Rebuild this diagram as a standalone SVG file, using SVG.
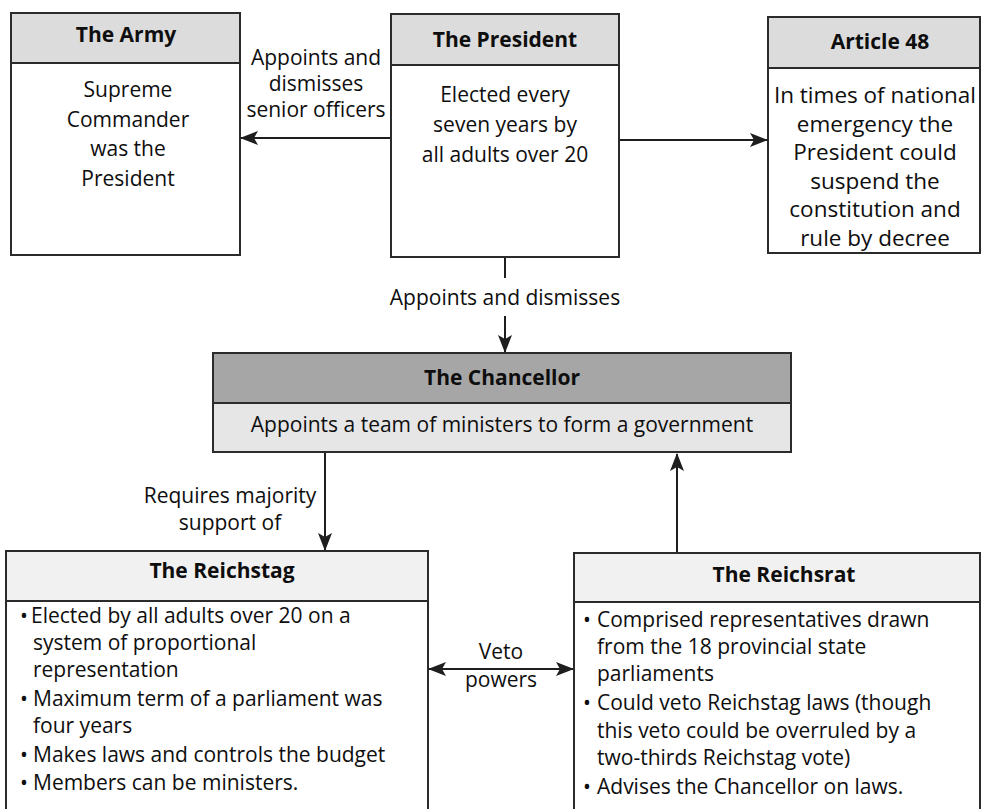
<svg xmlns="http://www.w3.org/2000/svg" width="984" height="809" viewBox="0 0 984 809">
<defs>
<marker id="ah" viewBox="0 0 18 14" refX="17" refY="7" markerWidth="18" markerHeight="14" markerUnits="userSpaceOnUse" orient="auto-start-reverse">
<path d="M0,0 L18,7 L0,14 L4,7 Z" fill="#1e1e1e"/>
</marker>
<style>
.box{fill:#fff;stroke:#2b2b2b;stroke-width:2}
.hd{fill:#dcdcdc;stroke:#2b2b2b;stroke-width:2}
.hdl{fill:#f1f1f1;stroke:#2b2b2b;stroke-width:2}
.hdd{fill:#a6a6a6;stroke:#2b2b2b;stroke-width:2}
.bdl{fill:#e6e6e6;stroke:#2b2b2b;stroke-width:2}
text{font-family:"Open Sans","Noto Sans","Liberation Sans",sans-serif;fill:#0e0e0e;font-size:21px;font-weight:500}
.t{font-weight:bold;text-anchor:middle}
.c{text-anchor:middle}
.big{font-size:22.5px}
.ln{stroke:#1e1e1e;stroke-width:2;fill:none}
</style>
</defs>
<rect width="984" height="809" fill="#fff"/>

<g id="connectors">
<line class="ln" x1="391" y1="138" x2="241" y2="138" marker-end="url(#ah)"/>
<line class="ln" x1="619" y1="140" x2="767" y2="140" marker-end="url(#ah)"/>
<line class="ln" x1="505" y1="257" x2="505" y2="278"/>
<line class="ln" x1="505" y1="316" x2="505" y2="352" marker-end="url(#ah)"/>
<line class="ln" x1="325" y1="452" x2="325" y2="550" marker-end="url(#ah)"/>
<line class="ln" x1="677" y1="552" x2="677" y2="454" marker-end="url(#ah)"/>
<line class="ln" x1="429" y1="669" x2="573" y2="669" marker-start="url(#ah)" marker-end="url(#ah)"/>
<text class="c" x="316" y="65">Appoints and</text>
<text class="c" x="316" y="91">dismisses</text>
<text class="c" x="316" y="117">senior officers</text>
<text class="c" x="505" y="305">Appoints and dismisses</text>
<text class="c" x="230" y="503">Requires majority</text>
<text class="c" x="230" y="530">support of</text>
<text class="c" x="501" y="659">Veto</text>
<text class="c" x="501" y="687">powers</text>
</g>

<g id="army">
<rect class="box" x="11" y="13" width="229" height="242"/>
<rect class="hd" x="11" y="13" width="229" height="50"/>
<text class="t" x="126" y="42">The Army</text>
<text class="c" x="128" y="97">Supreme</text>
<text class="c" x="128" y="127">Commander</text>
<text class="c" x="128" y="156">was the</text>
<text class="c" x="128" y="186">President</text>
</g>

<g id="president">
<rect class="box" x="391" y="14" width="228" height="243"/>
<rect class="hd" x="391" y="14" width="228" height="51"/>
<text class="t" x="505" y="47">The President</text>
<text class="c" x="505" y="102">Elected every</text>
<text class="c" x="505" y="132">seven years by</text>
<text class="c" x="505" y="162">all adults over 20</text>
</g>

<g id="article48">
<rect class="box" x="768" y="17" width="212" height="236"/>
<rect class="hd" x="768" y="17" width="212" height="51"/>
<text class="t" x="880" y="49">Article 48</text>
<text class="c big" x="875" y="103">In times of national</text>
<text class="c big" x="875" y="131.5">emergency the</text>
<text class="c big" x="875" y="160">President could</text>
<text class="c big" x="875" y="188.5">suspend the</text>
<text class="c big" x="875" y="217">constitution and</text>
<text class="c big" x="875" y="245.5">rule by decree</text>
</g>

<g id="chancellor">
<rect class="bdl" x="213" y="353" width="578" height="99"/>
<rect class="hdd" x="213" y="353" width="578" height="50"/>
<text class="t" x="502" y="385">The Chancellor</text>
<text class="c" x="502" y="432">Appoints a team of ministers to form a government</text>
</g>

<g id="reichstag">
<rect class="box" x="6" y="551" width="422" height="270"/>
<rect class="hdl" x="6" y="551" width="422" height="50"/>
<text class="t" x="222" y="578">The Reichstag</text>
<text x="20" y="623">•</text><text x="31" y="623">Elected by all adults over 20 on a</text>
<text x="33" y="650">system of proportional</text>
<text x="33" y="677">representation</text>
<text x="20" y="706">•</text><text x="33" y="706">Maximum term of a parliament was</text>
<text x="33" y="733">four years</text>
<text x="20" y="762">•</text><text x="33" y="762">Makes laws and controls the budget</text>
<text x="20" y="790">•</text><text x="33" y="790">Members can be ministers.</text>
</g>

<g id="reichsrat">
<rect class="box" x="574" y="553" width="406" height="270"/>
<rect class="hdl" x="574" y="553" width="406" height="49"/>
<text class="t" x="784" y="582">The Reichsrat</text>
<text x="583" y="627">•</text><text x="597" y="627">Comprised representatives drawn</text>
<text x="597" y="654">from the 18 provincial state</text>
<text x="597" y="681">parliaments</text>
<text x="583" y="710">•</text><text x="597" y="710">Could veto Reichstag laws (though</text>
<text x="597" y="738">this veto could be overruled by a</text>
<text x="597" y="765">two-thirds Reichstag vote)</text>
<text x="583" y="794">•</text><text x="597" y="794">Advises the Chancellor on laws.</text>
</g>
</svg>
